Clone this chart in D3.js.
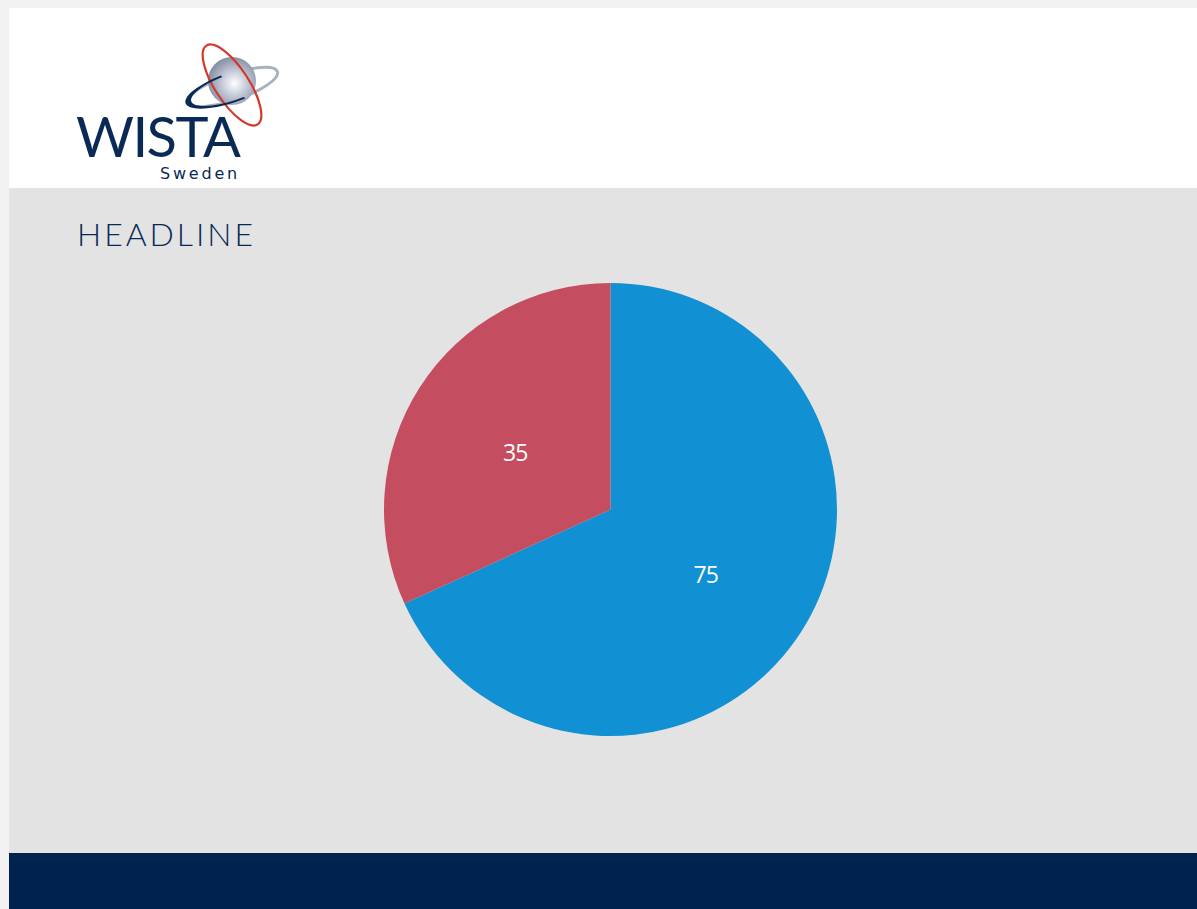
<!DOCTYPE html>
<html>
<head>
<meta charset="utf-8">
<script src="https://cdn.jsdelivr.net/npm/d3@7"></script>
<style>
  html, body { margin: 0; padding: 0; background: #f2f2f2; overflow: hidden; }
  svg { display: block; }
</style>
</head>
<body>
<script>
// Pie chart on a WISTA Sweden slide

// Data
const labels = ["A", "B"];
const values = [75, 35];
const colors = ["#1290d4", "#c44e5f"];

// Space
const w = 1197;
const h = 909;
const cx = 610.5;
const cy = 509.5;
const radius = 226.5;

const svg = d3.select("body")
              .append("svg")
              .attr("width", w)
              .attr("height", h);

const defs = svg.append("defs");
const grad = defs.append("radialGradient")
                 .attr("id", "globe")
                 .attr("cx", "55%").attr("cy", "55%").attr("r", "60%");
grad.append("stop").attr("offset", "0%").attr("stop-color", "#ffffff");
grad.append("stop").attr("offset", "45%").attr("stop-color", "#c3c8d6");
grad.append("stop").attr("offset", "100%").attr("stop-color", "#7d869c");

// Page panels
svg.append("rect").attr("x", 0).attr("y", 0).attr("width", w).attr("height", h).attr("fill", "#f2f2f2");
svg.append("rect").attr("x", 9).attr("y", 8).attr("width", w - 9).attr("height", 180).attr("fill", "#ffffff");
svg.append("rect").attr("x", 9).attr("y", 188).attr("width", w - 9).attr("height", 665).attr("fill", "#e3e3e3");
svg.append("rect").attr("x", 9).attr("y", 853).attr("width", w - 9).attr("height", h - 853).attr("fill", "#00224f");

// Logo
const logo = svg.append("g");
// back half of the orbit
logo.append("ellipse")
    .attr("cx", 0).attr("cy", 0).attr("rx", 47).attr("ry", 13)
    .attr("transform", "translate(233,87) rotate(-19)")
    .attr("fill", "none").attr("stroke", "#a9b0c0").attr("stroke-width", 3);
logo.append("circle")
    .attr("cx", 232).attr("cy", 81).attr("r", 24)
    .attr("fill", "url(#globe)");
logo.append("ellipse")
    .attr("cx", 0).attr("cy", 0).attr("rx", 47).attr("ry", 17)
    .attr("transform", "translate(232,85) rotate(57)")
    .attr("fill", "none").attr("stroke", "#d1392b").attr("stroke-width", 2.2);
// front part of the orbit (navy)
logo.append("path")
    .attr("transform", "translate(233,87) rotate(-19) scale(1,0.3)")
    .attr("d", d3.arc().innerRadius(44).outerRadius(50)({ startAngle: Math.PI * 0.95, endAngle: Math.PI * 1.95 }))
    .attr("fill", "#0a2a56");
logo.append("text")
    .attr("x", 76).attr("y", 157)
    .attr("font-family", "'Lato', 'Open Sans', sans-serif")
    .attr("font-size", 56)
    .attr("textLength", 165)
    .attr("fill", "#0a2a56")
    .text("WISTA");
logo.append("text")
    .attr("x", 160).attr("y", 179)
    .attr("font-family", "'DejaVu Sans', sans-serif")
    .attr("font-size", 16)
    .attr("letter-spacing", 2.8)
    .attr("fill", "#0a2a56")
    .text("Sweden");

// Headline
svg.append("text")
   .attr("x", 77).attr("y", 246)
   .attr("font-family", "'Lato', 'Open Sans', sans-serif")
   .attr("font-weight", 300)
   .attr("font-size", 32)
   .attr("textLength", 176)
   .attr("fill", "#0a2a56")
   .text("HEADLINE");

// Pie
const pie = d3.pie().sort(null).value(d => d.value);
const arc = d3.arc().innerRadius(0).outerRadius(radius);
const data = labels.map((l, i) => ({ label: l, value: values[i], color: colors[i] }));
const arcs = pie(data);

const g = svg.append("g").attr("transform", "translate(" + cx + "," + cy + ")");
g.selectAll("path.slice")
 .data(arcs)
 .enter()
 .append("path")
 .attr("class", "slice")
 .attr("d", arc)
 .attr("fill", d => d.data.color);

g.selectAll("text.value")
 .data(arcs)
 .enter()
 .append("text")
 .attr("class", "value")
 .attr("transform", d => "translate(" + arc.centroid(d) + ")")
 .attr("dy", "0.55em")
 .attr("text-anchor", "middle")
 .attr("font-family", "'Open Sans', sans-serif")
 .attr("font-size", 23)
 .attr("letter-spacing", -1)
 .attr("fill", "#ffffff")
 .text(d => d.data.value);
</script>
</body>
</html>
